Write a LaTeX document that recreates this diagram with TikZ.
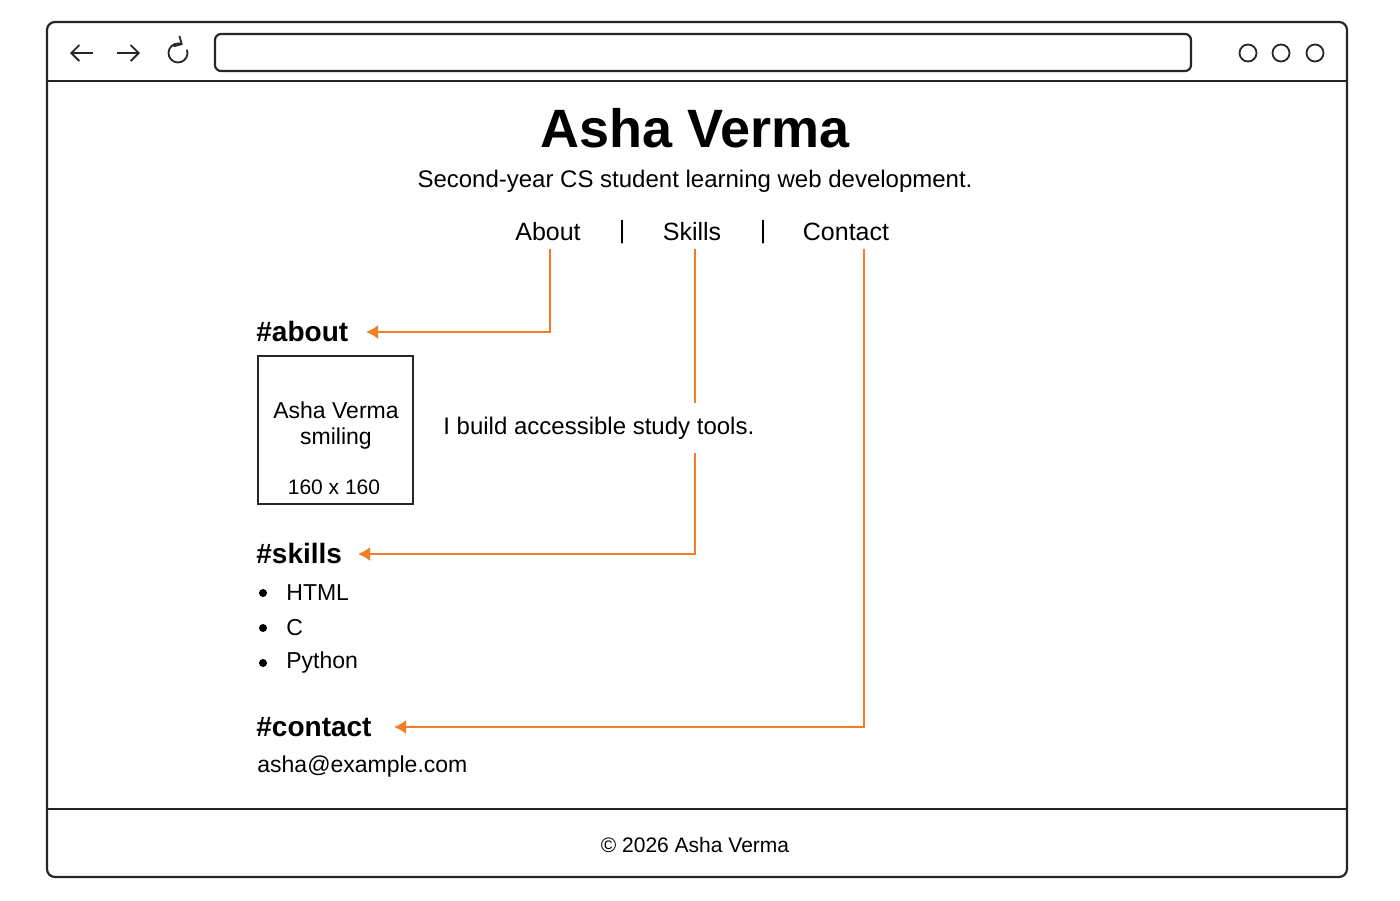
\documentclass[tikz,border=0pt]{standalone}
\usepackage{fontspec}
\setmainfont{Liberation Sans}
\usetikzlibrary{arrows.meta}
\definecolor{org}{HTML}{F07E26}
\begin{document}
\begin{tikzpicture}[x=0.5pt,y=-0.5pt,
  frame/.style={draw=black!85,line width=1.1pt},
  conn/.style={draw=org,line width=1pt,-{Latex[length=6pt,width=7pt]}},
  head/.style={anchor=west,font=\fontsize{14}{16}\selectfont\bfseries,inner sep=0pt},
  body/.style={font=\fontsize{11.5}{13}\selectfont,inner sep=0pt},
  nav/.style={font=\fontsize{12.5}{14}\selectfont,inner sep=1pt},
  icon/.style={line width=0.9pt,black!85}]
\useasboundingbox[fill=white] (0,0) rectangle (1400,900);
\draw[frame,rounded corners=4pt] (47,22) rectangle (1347,877);
\draw[frame] (47,81) -- (1347,81);
\draw[frame] (47,809) -- (1347,809);
\draw[frame,rounded corners=3pt] (215,34) rectangle (1191,71);
% icons
\draw[icon,-{Straight Barb[length=4pt,width=8pt]}] (93,53) -- (70,53);
\draw[icon,-{Straight Barb[length=4pt,width=8pt]}] (117,53) -- (140,53);
\draw[icon,-{Straight Barb[length=3pt,width=6pt]}] (178,53) ++(-20:9.5) arc (-20:300:9.5);
\foreach \x in {1248,1281,1315} \draw[icon] (\x,53) circle (8.5);
% header
\node[font=\fontsize{27}{30}\selectfont\bfseries] (title) at (695,128) {Asha Verma};
\node[body,font=\fontsize{12}{14}\selectfont] (sub) at (695,181) {Second-year CS student learning web development.};
\node[nav,anchor=south] (nabout) at (548,243) {About};
\node[nav] (sep1) at (622,232) {|};
\node[nav,anchor=south] (nskills) at (692,243) {Skills};
\node[nav] (sep2) at (763,232) {|};
\node[nav,anchor=south] (ncontact) at (846,243) {Contact};
% sections
\node[head] (about) at (256,331) {\#about};
\node[head] (skills) at (256,553) {\#skills};
\node[head] (contact) at (256,727) {\#contact};
\coordinate (ca) at (550,332);
\coordinate (cs) at (695,554);
\coordinate (cc) at (864,727);
\coordinate (ta) at (366,332);
\coordinate (ts) at (358,554);
\coordinate (tc) at (394,727);
\draw[conn] (550,249) -- (ca) -- (ta);
\draw[conn] (695,249) -- (cs) -- (ts);
\draw[conn] (864,249) -- (cc) -- (tc);
% about content
\draw[frame,line width=1pt] (258,356) rectangle (413,504);
\node[body] (img1) at (336,410) {Asha Verma};
\node[body] (img2) at (336,439) {smiling};
\node[body,font=\fontsize{10.5}{12}\selectfont] (img3) at (334,487) {160 x 160};
\node[body,font=\fontsize{12}{14}\selectfont,anchor=west,fill=white,inner ysep=7pt,inner xsep=1pt] (bio) at (441,428) {I build accessible study tools.};
% skills
\foreach \y/\t in {593/HTML,628/C,663/Python}{
  \fill (263,\y) circle (4);
  \node[body,anchor=west] at (286,\y) {\t};
}
\node[body,anchor=west] (mail) at (257,767) {asha@example.com};
\node[body,font=\fontsize{10.5}{12}\selectfont] (foot) at (695,845) {© 2026 Asha Verma};
\end{tikzpicture}
\end{document}
